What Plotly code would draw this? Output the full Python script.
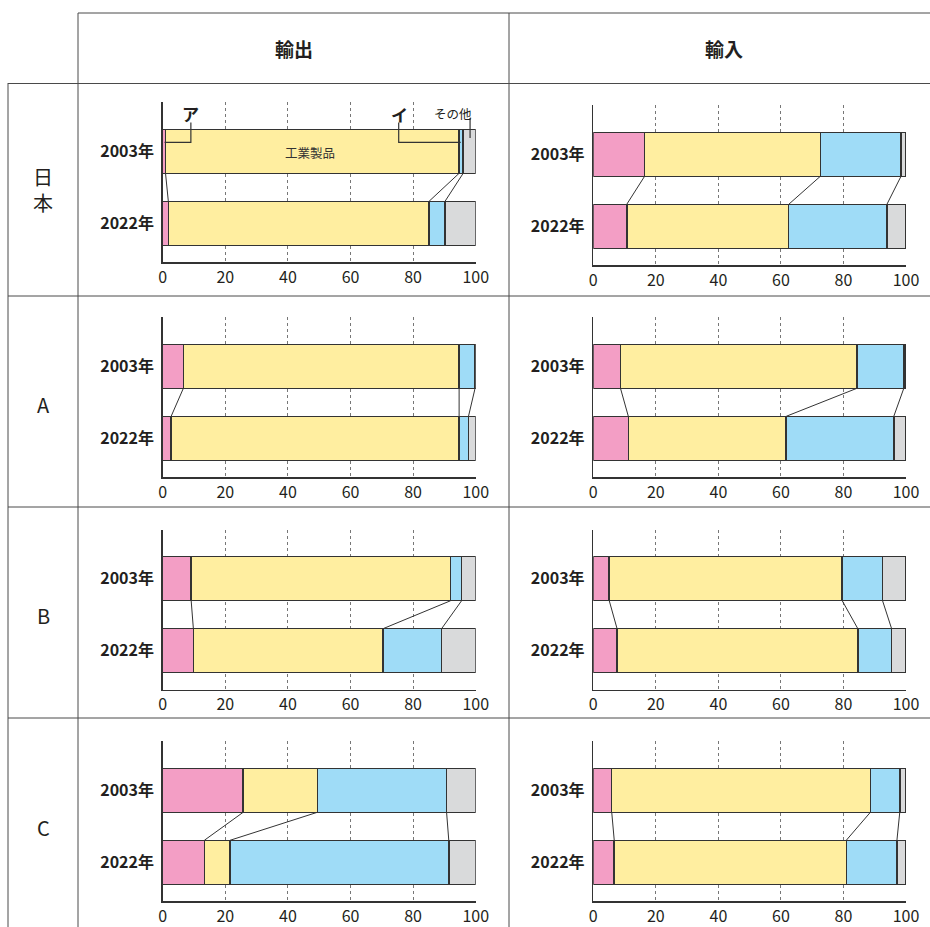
import plotly.graph_objects as go

# ---------------- data (percent shares) ----------------
components = ["ア", "工業製品", "イ", "その他"]
years = ["2003年", "2022年"]
countries = ["日本", "A", "B", "C"]
flows = ["輸出", "輸入"]

jp_export_2003 = [0.9, 93.8, 1.3, 4.0]
jp_export_2022 = [1.8, 83.3, 5.1, 9.8]
jp_import_2003 = [16.4, 56.2, 25.8, 1.6]
jp_import_2022 = [10.7, 51.8, 31.4, 6.1]

a_export_2003 = [6.6, 88.1, 5.1, 0.2]
a_export_2022 = [2.7, 92.0, 3.0, 2.3]
a_import_2003 = [8.7, 75.6, 15.0, 0.7]
a_import_2022 = [11.2, 50.5, 34.4, 3.9]

b_export_2003 = [9.1, 82.9, 3.5, 4.5]
b_export_2022 = [9.8, 60.6, 18.7, 10.9]
b_import_2003 = [5.1, 74.5, 12.9, 7.5]
b_import_2022 = [7.6, 77.0, 10.8, 4.6]

c_export_2003 = [25.7, 23.7, 41.3, 9.3]
c_export_2022 = [13.3, 8.2, 69.9, 8.6]
c_import_2003 = [5.9, 82.7, 9.4, 2.0]
c_import_2022 = [6.7, 74.2, 16.2, 2.9]

x_ticks = [0, 20, 40, 60, 80, 100]

# ---------------- styling ----------------
colors = ["#F39EC5", "#FFEEA0", "#9FDCF7", "#D9DADB"]
FONT = "Noto Sans CJK JP"
TXT = "#231F20"
W, H = 930, 927
BAR_W = 44 / 72

panels = [
    (jp_export_2003, jp_export_2022), (jp_import_2003, jp_import_2022),
    (a_export_2003, a_export_2022), (a_import_2003, a_import_2022),
    (b_export_2003, b_export_2022), (b_import_2003, b_import_2022),
    (c_export_2003, c_export_2022), (c_import_2003, c_import_2022),
]
row_top = [[129.3, 132.3], [344.3, 344.3], [556.7, 556.7], [768.3, 768.3]]
col_x = [(162.7, 475.7), (593.3, 906.0)]


def px(x):
    return x / W


def py(y):
    return 1 - y / H


fig = go.Figure()
layout = {}
for i, (v03, v22) in enumerate(panels):
    r, c = divmod(i, 2)
    n = "" if i == 0 else str(i + 1)
    xa, ya = "x" + n, "y" + n
    T = row_top[r][c]
    x0, x1 = col_x[c]
    for k, comp in enumerate(components):
        fig.add_trace(go.Bar(
            x=[v03[k], v22[k]], y=[1, 0], orientation="h", width=BAR_W,
            marker=dict(color=colors[k], line=dict(color="#333333", width=1.5)),
            name=comp, showlegend=False, xaxis=xa, yaxis=ya, hoverinfo="skip"))
    # connector lines between cumulative boundaries
    c03 = c22 = 0.0
    for k in range(3):
        c03 += v03[k]
        c22 += v22[k]
        fig.add_trace(go.Scatter(
            x=[c03, c22], y=[1 - BAR_W / 2, BAR_W / 2], mode="lines",
            line=dict(color="#333333", width=1), showlegend=False,
            xaxis=xa, yaxis=ya, hoverinfo="skip"))
    layout["xaxis" + n] = dict(
        domain=[px(x0), px(x1)], range=[0, 100], tickvals=x_ticks,
        showgrid=True, griddash="dot", gridcolor="#777777", gridwidth=1,
        showline=True, linecolor="#333333", linewidth=1.5, zeroline=False,
        ticks="", anchor=ya, automargin=False,
        tickfont=dict(family=FONT, size=16, color=TXT), fixedrange=True)
    layout["yaxis" + n] = dict(
        domain=[py(T + 133), py(T - 27)], range=[-0.5417, 1.6806],
        tickvals=[1, 0], ticktext=["<b>%s</b>" % y for y in years],
        showgrid=False, zeroline=False, showline=True, linecolor="#333333",
        linewidth=1.5, ticks="", anchor=xa, ticklabelstandoff=4, automargin=False,
        tickfont=dict(family=FONT, size=16, color=TXT), fixedrange=True)

fig.update_layout(**layout)

# ---------------- table frame ----------------
line = dict(color="#4a4a4a", width=1)
shapes = [
    dict(type="line", xref="paper", yref="paper", x0=px(78), x1=px(930), y0=py(13), y1=py(13), line=line),
    dict(type="line", xref="paper", yref="paper", x0=px(78), x1=px(78), y0=py(13), y1=py(927), line=line),
    dict(type="line", xref="paper", yref="paper", x0=px(509), x1=px(509), y0=py(13), y1=py(927), line=line),
    dict(type="line", xref="paper", yref="paper", x0=px(8), x1=px(8), y0=py(83), y1=py(927), line=line),
]
for yy in [83.5, 296, 507, 718]:
    shapes.append(dict(type="line", xref="paper", yref="paper", x0=px(8), x1=px(930),
                       y0=py(yy), y1=py(yy), line=line))

C = dict(xanchor="center", yanchor="middle", showarrow=False)
annotations = []
for j, f in enumerate(flows):
    annotations.append(dict(text="<b>%s</b>" % f, x=px([293.5, 724][j]), y=py(49),
                            xref="paper", yref="paper",
                            font=dict(family=FONT, size=19, color=TXT), **C))
row_cy = [189, 404, 615, 827]
for j, ctry in enumerate(countries):
    if len(ctry) > 1:
        for ch, yy in zip(ctry, [row_cy[j] - 13, row_cy[j] + 13]):
            annotations.append(dict(text=ch, x=px(43), y=py(yy), xref="paper", yref="paper",
                                    height=24, valign="middle",
                                    font=dict(family=FONT, size=20, color=TXT), **C))
    else:
        annotations.append(dict(text=ctry, x=px(43), y=py(row_cy[j]), xref="paper", yref="paper",
                                font=dict(family=FONT, size=20, color=TXT), **C))

# labels in the first panel
annotations += [
    dict(text="<b>ア</b>", x=9.0, y=1.53, xref="x", yref="y",
         font=dict(family=FONT, size=17, color=TXT), **C),
    dict(text="<b>イ</b>", x=75.6, y=1.51, xref="x", yref="y",
         font=dict(family=FONT, size=17, color=TXT), **C),
    dict(text="その他", x=92.8, y=1.53, xref="x", yref="y",
         font=dict(family=FONT, size=12.5, color=TXT), **C),
    dict(text="工業製品", x=47.0, y=0.98, xref="x", yref="y",
         font=dict(family=FONT, size=12.5, color="#333333"), **C),
]
lead = dict(color="#333333", width=1.2)
shapes += [
    dict(type="path", xref="x", yref="y", path="M 9.0 1.40 L 9.0 1.125 L 0.6 1.125", line=lead),
    dict(type="path", xref="x", yref="y", path="M 75.4 1.40 L 75.4 1.125 L 95.2 1.125", line=lead),
    dict(type="line", xref="x", yref="y", x0=98.2, x1=98.2, y0=1.46, y1=1.185, line=lead),
]

fig.update_layout(
    width=W, height=H, autosize=False, margin=dict(l=0, r=0, t=0, b=0, pad=0),
    paper_bgcolor="white", plot_bgcolor="rgba(0,0,0,0)",
    barmode="stack", bargap=0, showlegend=False,
    shapes=shapes, annotations=annotations,
    font=dict(family=FONT, color=TXT),
)

fig.write_html(
    "out.html",
    config={"responsive": False, "displayModeBar": False, "staticPlot": True},
    post_script=(
        "document.body.style.margin='0';document.body.style.padding='0';"
        "document.documentElement.style.overflow='hidden';"
    ),
)
